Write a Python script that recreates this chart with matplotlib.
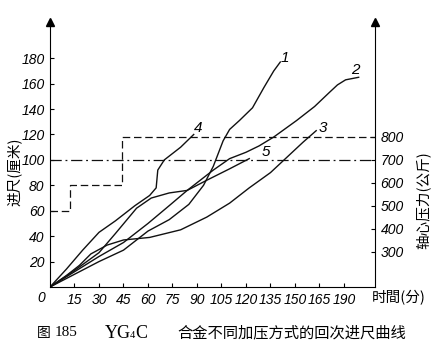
import matplotlib
matplotlib.use("Agg")
import matplotlib.pyplot as plt

plt.rcParams['font.family'] = ['Noto Sans CJK SC', 'DejaVu Sans']
NUM = ['Liberation Sans']
SERIF = 'Liberation Serif'

# curves: time (min) vs advance (cm)
t1 = [0, 15, 30, 45, 60, 73, 85, 94, 100, 106, 110, 116, 124, 131, 137, 141]
y1 = [0, 10, 20, 29, 44, 53, 65, 80, 95, 115, 124, 131, 141, 157, 170, 177]
t2 = [0, 15, 30, 45, 60, 73, 84, 100, 110, 120, 128, 137, 151, 162, 171, 176, 181, 189]
y2 = [0, 12, 24, 35, 50, 64, 76, 92, 101, 106, 111, 118, 131, 142, 153, 159, 163, 165]
t3 = [0, 10, 18, 25, 35, 45, 61, 80, 96, 110, 122, 135, 145, 155, 163]
y3 = [0, 9, 17, 26, 33, 37, 39, 45, 55, 66, 78, 90, 102, 114, 123]
t4 = [0, 10, 20, 30, 40, 52, 61, 65, 66, 70, 80, 88]
y4 = [0, 14, 29, 43, 52, 64, 72, 78, 92, 100, 110, 120]
t5 = [0, 15, 30, 40, 53, 62, 73, 84, 96, 110, 122]
y5 = [0, 13, 27, 42, 62, 70, 74, 76, 84, 93, 101]
curves = [(t1, y1, '1'), (t2, y2, '2'), (t3, y3, '3'), (t4, y4, '4'), (t5, y5, '5')]
label_pos = [(144, 180), (187, 171), (167, 125), (91, 125), (132, 106)]

# axial pressure steps (kg)
p_t = [0, 12, 12, 44, 44, 199]
p_v = [480, 480, 590, 590, 800, 800]
level_700 = 100  # cm-axis position of the 700 kg line

xticks = [15, 30, 45, 60, 75, 90, 105, 120, 135, 150, 165, 180]
xlabels = ['15', '30', '45', '60', '75', '90', '105', '120', '135', '150', '165', '190']
yticks = [20, 40, 60, 80, 100, 120, 140, 160, 180]
rticks = [300, 400, 500, 600, 700, 800]

fig = plt.figure(figsize=(4.37, 3.57), dpi=100)
ax = fig.add_axes([50/437, 70/357, 325/437, 265/357])
ax.set_xlim(0, 199)
ax.set_ylim(0, 208.5)
ax2 = ax.twinx()
ax2.set_ylim(147.5, 147.5 + 208.5/0.181)

for t, y, lab in curves:
    ax.plot(t, y, color='#111111', lw=1.0)
for (x, y), (_, _, lab) in zip(label_pos, curves):
    ax.text(x, y, lab, fontsize=11, style='italic', family=NUM, ha='center', va='center')

ax.plot([0, 199], [level_700, level_700], color='#111111', lw=0.9,
        linestyle=(0, (9, 3, 1.5, 3)))
ax2.plot(p_t, p_v, color='#111111', lw=0.9, linestyle=(0, (6, 3)))

for a in (ax, ax2):
    a.spines['top'].set_visible(False)
ax.spines['right'].set_visible(False)
ax2.spines['left'].set_visible(False)
ax2.spines['bottom'].set_visible(False)

ax.set_xticks(xticks)
ax.set_xticklabels(xlabels, style='italic', family=NUM, fontsize=10)
ax.set_yticks(yticks)
ax.set_yticklabels([str(v) for v in yticks], style='italic', family=NUM, fontsize=10)
ax.tick_params(direction='in', length=3, width=0.8, pad=4)
ax2.set_yticks(rticks)
ax2.set_yticklabels([str(v) for v in rticks], style='italic', family=NUM, fontsize=10)
ax2.tick_params(direction='in', length=3, width=0.8, pad=4)

ax.annotate('0', xy=(0, 0), xytext=(-6, -8), textcoords='offset points',
            fontsize=10, style='italic', family=NUM, ha='center', va='center')

# arrow heads on the two vertical axes
ax.plot([0], [1.0], marker='^', ms=6, color='black', transform=ax.transAxes, clip_on=False)
ax.plot([1], [1.0], marker='^', ms=6, color='black', transform=ax.transAxes, clip_on=False)

fig.text(14/437, 1 - 172/357, '进尺(厘米)', rotation=90, fontsize=10.5, ha='center', va='center')
fig.text(423/437, 1 - 200/357, '轴心压力(公斤)', rotation=90, fontsize=10.5, ha='center', va='center')
fig.text(399/437, 1 - 298/357, '时間(分)', fontsize=10.5, ha='center', va='center')

# caption
cy = 1 - 333/357
fig.text(37/437, cy, '图', fontsize=10, ha='left', va='center')
fig.text(55/437, cy, '185', fontsize=11, family=SERIF, ha='left', va='center')
fig.text(105/437, cy, 'YG', fontsize=13, family=SERIF, ha='left', va='center')
fig.text(130/437, cy - 3/357, '4', fontsize=7.5, family=SERIF, ha='left', va='center')
fig.text(135/437, cy, 'C', fontsize=13, family=SERIF, ha='left', va='center')
fig.text(177/437, cy, '合金不同加压方式的回次进尺曲线', fontsize=11, ha='left', va='center')

fig.savefig('out.png', dpi=100)
